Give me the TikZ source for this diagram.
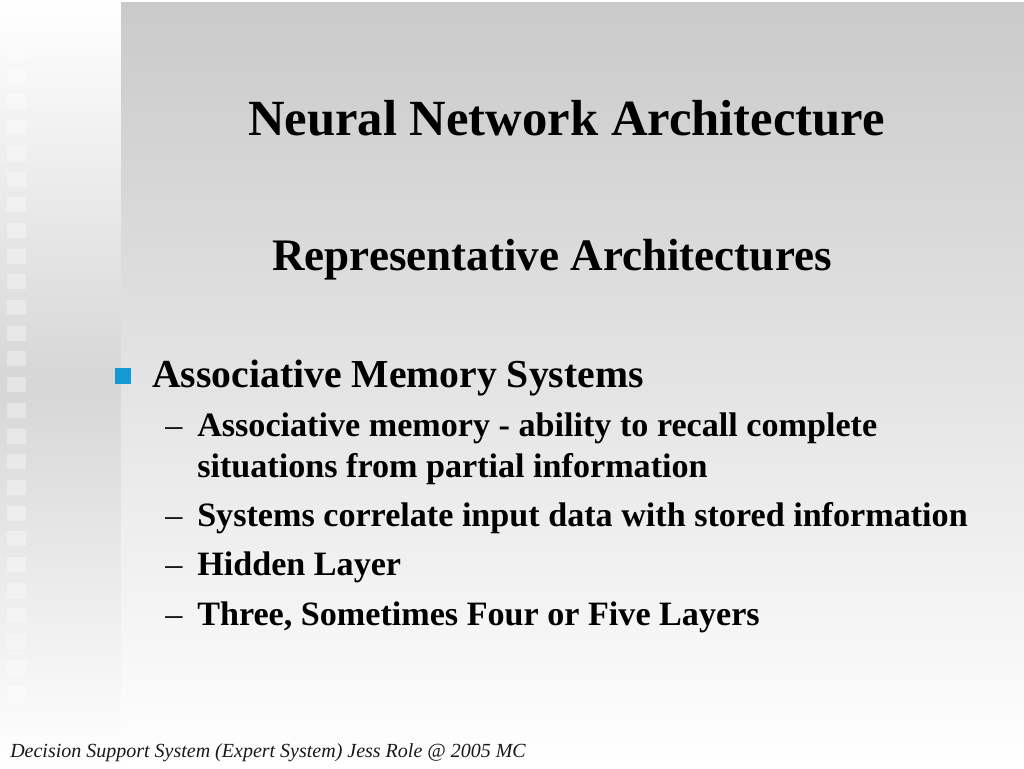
\documentclass[tikz,border=0pt]{standalone}
\usepackage{fontspec}
\setmainfont{Liberation Serif}
\newfontfamily\footfont{Liberation Serif}
\definecolor{panelTop}{RGB}{202,202,202}
\definecolor{panelMid}{RGB}{228,228,228}
\definecolor{stripMid}{RGB}{214,214,214}
\definecolor{bulletBlue}{RGB}{22,152,212}
\tikzset{
  slidetitle/.style={anchor=base,inner sep=0pt,font=\fontsize{38}{44}\selectfont\bfseries},
  slidesub/.style={anchor=base,inner sep=0pt,font=\fontsize{33.8}{40}\selectfont\bfseries},
  levelone/.style={anchor=base west,inner sep=0pt,font=\fontsize{29.75}{36}\selectfont\bfseries},
  leveltwo/.style={anchor=base west,inner sep=0pt,font=\fontsize{25.6}{30}\selectfont\bfseries},
  dashmark/.style={anchor=base west,inner sep=0pt,font=\fontsize{25.6}{30}\selectfont},
  footline/.style={anchor=base west,inner sep=0pt,font=\fontsize{15}{17}\selectfont\footfont\itshape,text=black!90}
}
\begin{document}
\begin{tikzpicture}[x=0.75pt,y=0.75pt,yscale=-1,xscale=1]
	\useasboundingbox (0,0) rectangle (1024,768);
	% background
	\fill[white] (0,0) rectangle (1024,768);
	\shade[top color=white,bottom color=white,middle color=stripMid] (0,0) rectangle (121,768);
	\foreach \k in {0,...,25}
		\fill[white,opacity=0.35] (7,43+25.7*\k) rectangle ++(19,15);
	\shade[top color=panelTop,bottom color=white,middle color=panelMid] (121,2) rectangle (1024,768);

	% headings
	\node[slidetitle] (title) at (566.5,135) {Neural Network Architecture};
	\node[slidesub] (subtitle) at (552,270) {Representative Architectures};

	% bullets
	\fill[bulletBlue] (115,368) rectangle (131,384);
	\node[levelone] (assoc) at (152,387) {Associative Memory Systems};
	\node[dashmark] (dasha) at (165,436) {--};
	\node[leveltwo] (recall) at (197,436) {Associative memory - ability to recall complete};
	\node[leveltwo] (partial) at (197,477) {situations from partial information};
	\node[dashmark] (dashb) at (165,526) {--};
	\node[leveltwo] (correlate) at (197,526) {Systems correlate input data with stored information};
	\node[dashmark] (dashc) at (165,575) {--};
	\node[leveltwo] (hidden) at (197,575) {Hidden Layer};
	\node[dashmark] (dashd) at (165,625) {--};
	\node[leveltwo] (layers) at (197,625) {Three, Sometimes Four or Five Layers};

	% footer
	\node[footline] (footer) at (10,757) {Decision Support System (Expert System) Jess Role @ 2005 MC};
\end{tikzpicture}
\end{document}
